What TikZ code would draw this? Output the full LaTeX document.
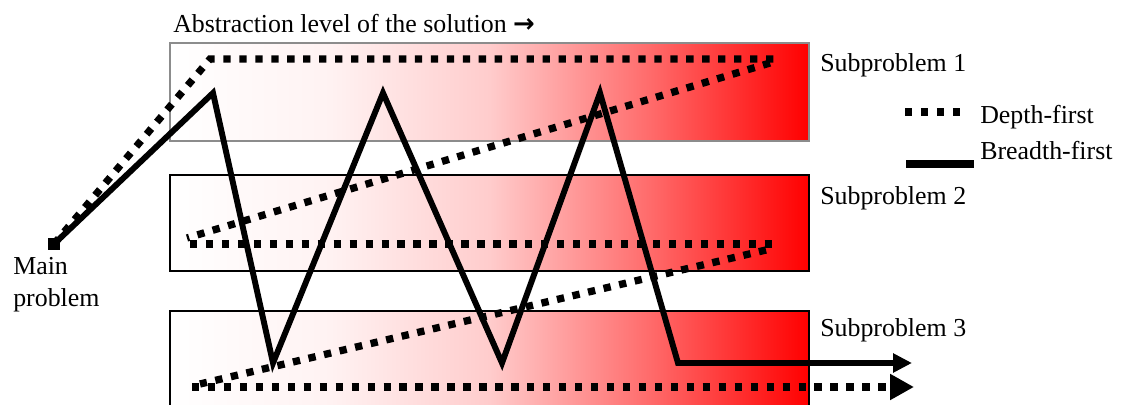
\documentclass[tikz,border=0pt]{standalone}
\usepackage{fontspec}
\setmainfont{Liberation Serif}
\newfontfamily\arrowfont{DejaVu Sans}
\usepackage{tikz}
\usetikzlibrary{arrows.meta,positioning}
\definecolor{boxgray}{HTML}{8C8C8C}
\pgfdeclarehorizontalshading{subshade}{100bp}{
  color(0bp)=(white); color(25bp)=(white); color(37.5bp)=(red!5);
  color(50bp)=(red!20); color(62.5bp)=(red!58); color(75bp)=(red); color(100bp)=(red)}
\tikzset{
sub box/.style={
  draw=black,
  line width=1.1pt,
  shading=subshade,
  anchor=north west,
  inner sep=0pt,
  minimum width=15.975cm
},
depth path/.style={
  draw=black,
  line width=5.2pt,
  line cap=butt,
  dash pattern=on 5.2pt off 6.15pt
},
breadth path/.style={
  draw=black,
  line width=4.2pt,
  line join=miter
},
main dot/.style={fill=black, inner sep=0pt, minimum size=0.3cm},
fig label/.style={font=\fontsize{18.4}{23.4}\selectfont, inner sep=0pt, anchor=base west, align=left}
}

\begin{document}
\begin{tikzpicture}[x=0.025cm,y=-0.025cm]
\useasboundingbox (0,0) rectangle (1130,405);
\clip (0,0) rectangle (1130,405);
% subproblem boxes
\node[sub box,draw=boxgray,minimum height=2.45cm] (sub1) at (169,42) {};
\node[sub box,minimum height=2.4cm] (sub2) at (169,174) {};
\node[sub box,minimum height=2.5cm] (sub3) at (169,310) {};
% texts
\node[fig label] (title) at (173,33) {Abstraction level of the solution {\arrowfont\bfseries →}};
\node[fig label] (lab1) at (820,72) {Subproblem 1};
\node[fig label] (lab2) at (820,205) {Subproblem 2};
\node[fig label] (lab3) at (820,337) {Subproblem 3};
\node[fig label] (mainlab) at (13,307) {Main\\problem};
\node[main dot] (main) at (54,244) {};
% legend
\node[fig label] (depthlab) at (980,124) {Depth-first};
\node[fig label] (breadthlab) at (980,160) {Breadth-first};
\coordinate (depthA) at (905,112);
\coordinate (depthB) at (961,112);
\coordinate (breadthA) at (906,164);
\coordinate (breadthB) at (974,164);
\draw[depth path] (depthA) -- (depthB);
\draw[breadth path,line width=5.6pt] (breadthA) -- (breadthB);
% breadth-first walk
\coordinate (b1) at (213,93);
\coordinate (b2) at (273,363);
\coordinate (b3) at (383,93);
\coordinate (b4) at (502,363);
\coordinate (b5) at (600,93);
\coordinate (b6) at (678,363);
\coordinate (b7) at (912,363);
\draw[breadth path,-{Triangle[length=13.5pt,width=13pt]}] (main.center) -- (b1) -- (b2) -- (b3) -- (b4) -- (b5) -- (b6) -- (b7);
% depth-first walk
\coordinate (d1) at (210,59);
\coordinate (d2) at (775,59);
\coordinate (d3) at (770,63);
\coordinate (d4) at (187,238);
\coordinate (d5) at (190,244);
\coordinate (d6) at (774,244);
\coordinate (d7) at (766,250);
\coordinate (d8) at (200,384);
\coordinate (d9) at (192,387);
\coordinate (d10) at (914,387);
\draw[depth path] (main.center) -- (d1) -- (d2);
\draw[depth path] (d3) -- (d4);
\draw[depth path] (d5) -- (d6);
\draw[depth path] (d7) -- (d8);
\draw[depth path,-{Triangle[length=17pt,width=17.5pt]}] (d9) -- (d10);
\end{tikzpicture}
\end{document}
